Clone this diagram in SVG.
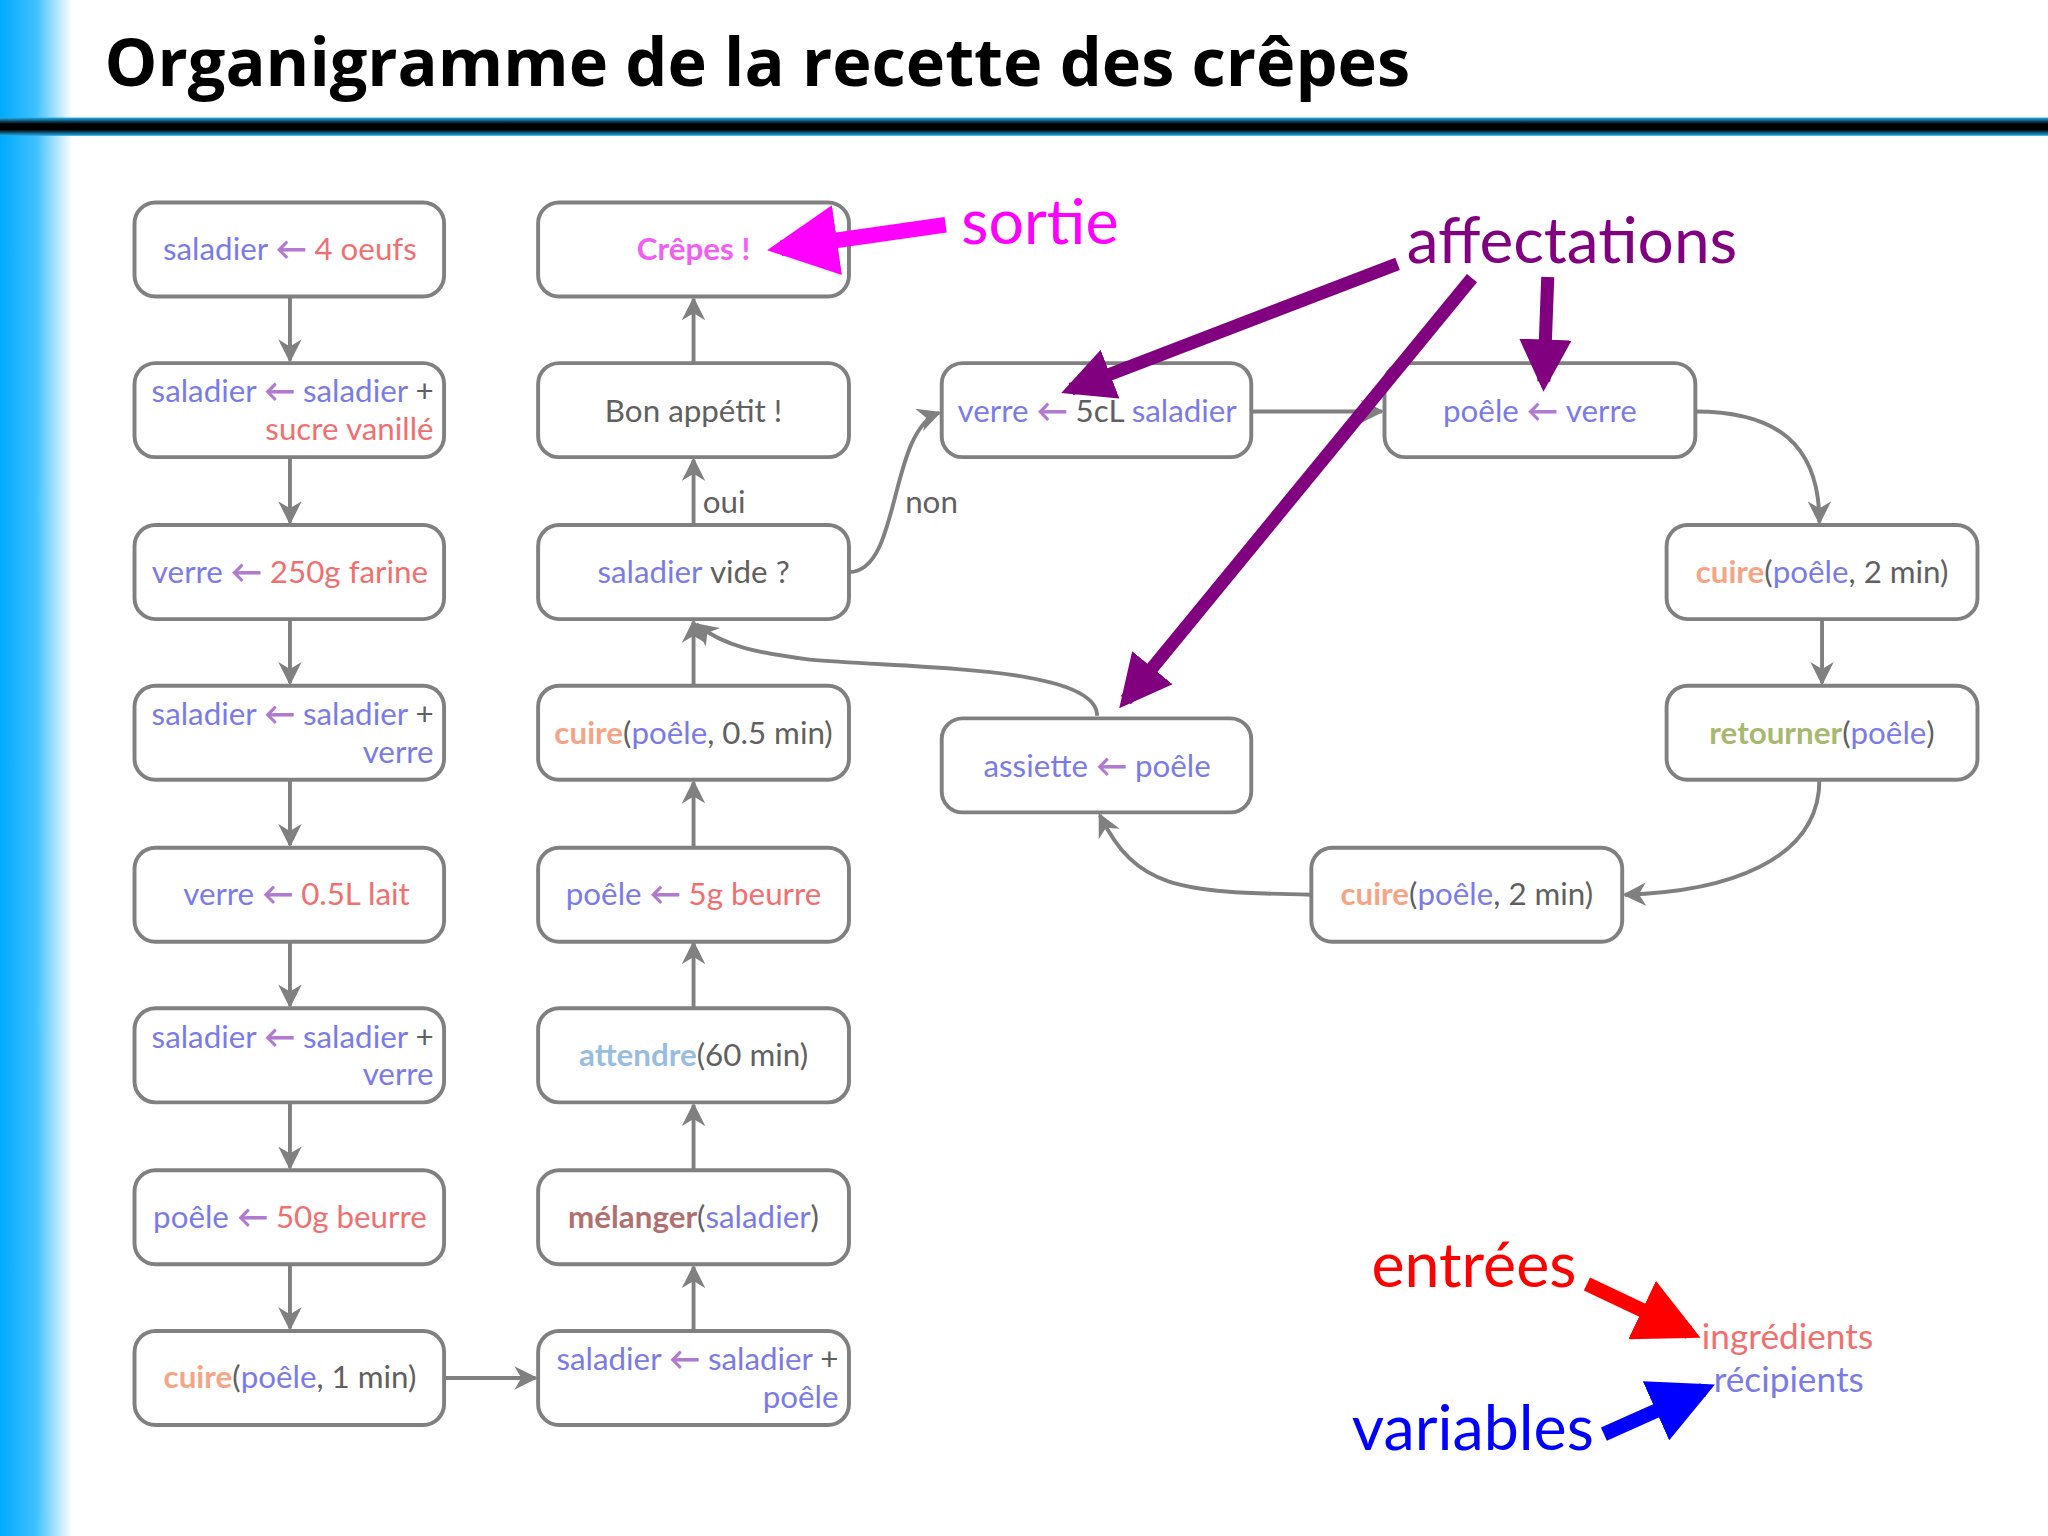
<svg xmlns="http://www.w3.org/2000/svg" width="2048" height="1536" viewBox="0 0 2048 1536">
<defs>
<linearGradient id="lg" x1="0" x2="1" y1="0" y2="0"><stop offset="0" stop-color="#00aaff"/><stop offset="0.5" stop-color="#40c0ff"/><stop offset="1" stop-color="#ffffff"/></linearGradient>
<linearGradient id="bar" x1="0" x2="0" y1="0" y2="1"><stop offset="0" stop-color="#20b0f0"/><stop offset="0.35" stop-color="#000"/><stop offset="0.65" stop-color="#000"/><stop offset="1" stop-color="#20b0f0"/></linearGradient>
<marker id="ah" viewBox="0 0 10 10" refX="9" refY="5" markerWidth="18" markerHeight="18" markerUnits="userSpaceOnUse" orient="auto"><path d="M0,0 L10,5 L0,10 L3,5 z" fill="#808080"/></marker>
<marker id="bm" viewBox="0 0 10 10" refX="8" refY="5" markerWidth="4.5" markerHeight="4.5" orient="auto"><path d="M0,0 L10,5 L0,10 z" fill="#ff00ff"/></marker>
<marker id="bp" viewBox="0 0 10 10" refX="8" refY="5" markerWidth="4" markerHeight="4" orient="auto"><path d="M0,0 L10,5 L0,10 z" fill="#800080"/></marker>
<marker id="br" viewBox="0 0 10 10" refX="8" refY="5" markerWidth="4.5" markerHeight="4.5" orient="auto"><path d="M0,0 L10,5 L0,10 z" fill="#ff0000"/></marker>
<marker id="bb" viewBox="0 0 10 10" refX="8" refY="5" markerWidth="4.5" markerHeight="4.5" orient="auto"><path d="M0,0 L10,5 L0,10 z" fill="#0000ff"/></marker>
</defs>
<style>
.box{fill:#fff;stroke:#808080;stroke-width:3}
text{font-family:Lato,"Open Sans",sans-serif;font-size:24px;fill:#555}
.c{text-anchor:middle}
.e{text-anchor:end}
.v{fill:#7b7be8}.i{fill:#f07070}.a{fill:#b07ad0;font-weight:bold}.k{fill:#606060}
.cu{fill:#f5a585;font-weight:bold}.at{fill:#98bde0;font-weight:bold}.re{fill:#a8b870;font-weight:bold}.me{fill:#b07070;font-weight:bold}
.cn path,.cn line{fill:none;stroke:#808080;stroke-width:3;marker-end:url(#ah)}
</style>
<rect width="2048" height="1536" fill="#fff"/>
<rect x="0" y="0" width="72" height="1536" fill="url(#lg)"/>
<g transform="scale(1.30612)">
<rect x="0" y="90" width="1568" height="14" fill="url(#bar)"/>
<text x="80" y="66" style="font-family:'Open Sans',Lato,sans-serif;font-size:51px;font-weight:bold;fill:#000">Organigramme de la recette des crêpes</text>

<g class="cn">
<line x1="222" y1="227" x2="222" y2="276"/>
<line x1="222" y1="350" x2="222" y2="400"/>
<line x1="222" y1="474" x2="222" y2="523"/>
<line x1="222" y1="597" x2="222" y2="647"/>
<line x1="222" y1="720" x2="222" y2="770"/>
<line x1="222" y1="844" x2="222" y2="894"/>
<line x1="222" y1="968" x2="222" y2="1017"/>
<line x1="340" y1="1055" x2="410" y2="1055"/>
<line x1="531" y1="1019" x2="531" y2="970"/>
<line x1="531" y1="896" x2="531" y2="846"/>
<line x1="531" y1="772" x2="531" y2="722"/>
<line x1="531" y1="649" x2="531" y2="599"/>
<line x1="531" y1="525" x2="531" y2="476"/>
<line x1="531" y1="402" x2="531" y2="352"/>
<line x1="531" y1="278" x2="531" y2="229"/>
<path d="M650,438 C690,438 680,330 719,316"/>
<line x1="958" y1="315" x2="1058" y2="315"/>
<path d="M1298,315 C1360,315 1393,340 1393,400"/>
<line x1="1395" y1="474" x2="1395" y2="523"/>
<path d="M1393,597 C1393,660 1320,683 1244,685"/>
<path d="M1004,685 C900,683 870,680 842,624"/>
<path d="M840,548 C840,510 700,512 620,505 C580,500 555,495 533,478"/>
</g>
<text x="538" y="393" class="k">oui</text>
<text x="693" y="393" class="k">non</text>

<g id="n1"><rect class="box" x="103" y="155" width="237" height="72" rx="16"/><text x="222" y="199" class="c"><tspan class="v">saladier </tspan><tspan class="a">← </tspan><tspan class="i">4 oeufs</tspan></text></g>
<g id="n2"><rect class="box" x="103" y="278" width="237" height="72" rx="16"/><text x="332" y="308" class="e"><tspan class="v">saladier </tspan><tspan class="a">← </tspan><tspan class="v">saladier </tspan><tspan class="k">+</tspan></text><text x="332" y="337" class="e i">sucre vanillé</text></g>
<g id="n3"><rect class="box" x="103" y="402" width="237" height="72" rx="16"/><text x="222" y="446" class="c"><tspan class="v">verre </tspan><tspan class="a">← </tspan><tspan class="i">250g farine</tspan></text></g>
<g id="n4"><rect class="box" x="103" y="525" width="237" height="72" rx="16"/><text x="332" y="555" class="e"><tspan class="v">saladier </tspan><tspan class="a">← </tspan><tspan class="v">saladier </tspan><tspan class="k">+</tspan></text><text x="332" y="584" class="e v">verre</text></g>
<g id="n5"><rect class="box" x="103" y="649" width="237" height="72" rx="16"/><text x="227" y="693" class="c"><tspan class="v">verre </tspan><tspan class="a">← </tspan><tspan class="i">0.5L lait</tspan></text></g>
<g id="n6"><rect class="box" x="103" y="772" width="237" height="72" rx="16"/><text x="332" y="802" class="e"><tspan class="v">saladier </tspan><tspan class="a">← </tspan><tspan class="v">saladier </tspan><tspan class="k">+</tspan></text><text x="332" y="831" class="e v">verre</text></g>
<g id="n7"><rect class="box" x="103" y="896" width="237" height="72" rx="16"/><text x="222" y="940" class="c"><tspan class="v">poêle </tspan><tspan class="a">← </tspan><tspan class="i">50g beurre</tspan></text></g>
<g id="n8"><rect class="box" x="103" y="1019" width="237" height="72" rx="16"/><text x="222" y="1063" class="c"><tspan class="cu">cuire</tspan><tspan class="k">(</tspan><tspan class="v">poêle</tspan><tspan class="k">, 1 min)</tspan></text></g>

<g id="m1"><rect class="box" x="412" y="155" width="238" height="72" rx="16"/><text x="531" y="199" class="c" style="fill:#f060f0;font-weight:bold">Crêpes !</text></g>
<g id="m2"><rect class="box" x="412" y="278" width="238" height="72" rx="16"/><text x="531" y="323" class="c k">Bon appétit !</text></g>
<g id="m3"><rect class="box" x="412" y="402" width="238" height="72" rx="16"/><text x="531" y="446" class="c"><tspan class="v">saladier </tspan><tspan class="k">vide ?</tspan></text></g>
<g id="m4"><rect class="box" x="412" y="525" width="238" height="72" rx="16"/><text x="531" y="570" class="c"><tspan class="cu">cuire</tspan><tspan class="k">(</tspan><tspan class="v">poêle</tspan><tspan class="k">, 0.5 min)</tspan></text></g>
<g id="m5"><rect class="box" x="412" y="649" width="238" height="72" rx="16"/><text x="531" y="693" class="c"><tspan class="v">poêle </tspan><tspan class="a">← </tspan><tspan class="i">5g beurre</tspan></text></g>
<g id="m6"><rect class="box" x="412" y="772" width="238" height="72" rx="16"/><text x="531" y="816" class="c"><tspan class="at">attendre</tspan><tspan class="k">(60 min)</tspan></text></g>
<g id="m7"><rect class="box" x="412" y="896" width="238" height="72" rx="16"/><text x="531" y="940" class="c"><tspan class="me">mélanger</tspan><tspan class="k">(</tspan><tspan class="v">saladier</tspan><tspan class="k">)</tspan></text></g>
<g id="m8"><rect class="box" x="412" y="1019" width="238" height="72" rx="16"/><text x="642" y="1049" class="e"><tspan class="v">saladier </tspan><tspan class="a">← </tspan><tspan class="v">saladier </tspan><tspan class="k">+</tspan></text><text x="642" y="1078" class="e v">poêle</text></g>

<g id="r1"><rect class="box" x="721" y="278" width="237" height="72" rx="16"/><text x="840" y="323" class="c"><tspan class="v">verre </tspan><tspan class="a">← </tspan><tspan class="k">5cL </tspan><tspan class="v">saladier</tspan></text></g>
<g id="r2"><rect class="box" x="1060" y="278" width="238" height="72" rx="16"/><text x="1179" y="323" class="c"><tspan class="v">poêle </tspan><tspan class="a">← </tspan><tspan class="v">verre</tspan></text></g>
<g id="r3"><rect class="box" x="1276" y="402" width="238" height="72" rx="16"/><text x="1395" y="446" class="c"><tspan class="cu">cuire</tspan><tspan class="k">(</tspan><tspan class="v">poêle</tspan><tspan class="k">, 2 min)</tspan></text></g>
<g id="r4"><rect class="box" x="1276" y="525" width="238" height="72" rx="16"/><text x="1395" y="570" class="c"><tspan class="re">retourner</tspan><tspan class="k">(</tspan><tspan class="v">poêle</tspan><tspan class="k">)</tspan></text></g>
<g id="r5"><rect class="box" x="1004" y="649" width="238" height="72" rx="16"/><text x="1123" y="693" class="c"><tspan class="cu">cuire</tspan><tspan class="k">(</tspan><tspan class="v">poêle</tspan><tspan class="k">, 2 min)</tspan></text></g>
<g id="r6"><rect class="box" x="721" y="550" width="237" height="72" rx="16"/><text x="840" y="595" class="c"><tspan class="v">assiette </tspan><tspan class="a">← </tspan><tspan class="v">poêle</tspan></text></g>

<g id="annot" fill="none">
<line x1="724" y1="172" x2="598" y2="190" stroke="#ff00ff" stroke-width="12" marker-end="url(#bm)"/>
<line x1="1070" y1="202" x2="820" y2="298" stroke="#800080" stroke-width="10" marker-end="url(#bp)"/>
<line x1="1185" y1="212" x2="1182" y2="292" stroke="#800080" stroke-width="10" marker-end="url(#bp)"/>
<line x1="1127" y1="213" x2="862" y2="536" stroke="#800080" stroke-width="10" marker-end="url(#bp)"/>
<line x1="1215" y1="983" x2="1293" y2="1020" stroke="#ff0000" stroke-width="11" marker-end="url(#br)"/>
<line x1="1228" y1="1098" x2="1304" y2="1064" stroke="#0000ff" stroke-width="11" marker-end="url(#bb)"/>
</g>
<text x="736" y="187" style="font-size:48px;fill:#ff00ff">sortie</text>
<text x="1077" y="201" style="font-size:49px;fill:#800080">affectations</text>
<text x="1050" y="985" style="font-size:48px;fill:#ff0000">entrées</text>
<text x="1035" y="1110" style="font-size:48px;fill:#0000ff">variables</text>
<text x="1303" y="1033" style="font-size:27px;fill:#f07070">ingrédients</text>
<text x="1312" y="1066" style="font-size:27px;fill:#7b7be8">récipients</text>
</g>
</svg>
